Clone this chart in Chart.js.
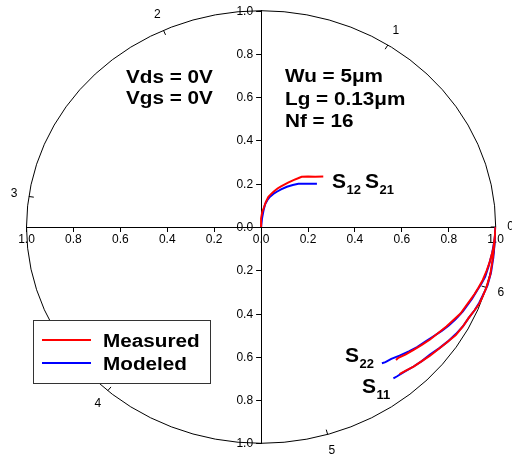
<!DOCTYPE html>
<html><head><meta charset="utf-8">
<script src="https://cdn.jsdelivr.net/npm/chart.js@4/dist/chart.umd.min.js"></script>
<style>html,body{margin:0;padding:0;background:#fff;overflow:hidden}canvas{display:block}</style>
</head><body>
<canvas id="c" width="512" height="459"></canvas>
<script>
const tickValues = [-1, -0.8, -0.6, -0.4, -0.2, 0, 0.2, 0.4, 0.6, 0.8, 1];
const angleValues = [0, 1, 2, 3, 4, 5, 6];          // radians
const angleLabels = ['0', '1', '2', '3', '4', '5', '6'];

const s21Measured = [[0,0],[0,0.04],[0.005,0.07],[0.012,0.09],[0.02,0.115],[0.031,0.14],[0.042,0.152],[0.053,0.163],[0.07,0.178],[0.085,0.188],[0.095,0.194],[0.115,0.205],[0.138,0.217],[0.155,0.224],[0.173,0.232],[0.2,0.233],[0.23,0.232],[0.265,0.233]];
const s21Modeled  = [[0,0],[0.004,0.04],[0.01,0.075],[0.017,0.105],[0.027,0.125],[0.038,0.14],[0.052,0.153],[0.067,0.163],[0.085,0.174],[0.11,0.186],[0.135,0.194],[0.159,0.2],[0.19,0.2],[0.215,0.2],[0.238,0.2]];
const s22Measured = [[1.0,0],[0.996,-0.05],[0.99,-0.10],[0.975,-0.16],[0.962,-0.20],[0.945,-0.245],[0.927,-0.28],[0.91,-0.31],[0.89,-0.34],[0.87,-0.37],[0.85,-0.40],[0.82,-0.43],[0.79,-0.46],[0.755,-0.49],[0.72,-0.52],[0.685,-0.545],[0.65,-0.568],[0.615,-0.59],[0.585,-0.605],[0.575,-0.615]];
const s22Modeled  = [[1.0,0],[0.995,-0.06],[0.985,-0.12],[0.97,-0.18],[0.955,-0.23],[0.94,-0.26],[0.92,-0.295],[0.90,-0.33],[0.88,-0.36],[0.86,-0.39],[0.83,-0.425],[0.80,-0.455],[0.77,-0.48],[0.735,-0.505],[0.70,-0.53],[0.665,-0.555],[0.63,-0.575],[0.59,-0.595],[0.555,-0.61],[0.53,-0.625],[0.515,-0.63]];
const s11Measured = [[1.0,0],[0.995,-0.07],[0.988,-0.14],[0.977,-0.22],[0.96,-0.28],[0.945,-0.32],[0.93,-0.355],[0.91,-0.385],[0.885,-0.42],[0.86,-0.46],[0.83,-0.50],[0.79,-0.535],[0.755,-0.565],[0.72,-0.595],[0.685,-0.62],[0.65,-0.645],[0.615,-0.665],[0.59,-0.68]];
const s11Modeled  = [[1.0,0],[0.996,-0.07],[0.99,-0.14],[0.98,-0.21],[0.965,-0.27],[0.948,-0.31],[0.93,-0.35],[0.91,-0.385],[0.885,-0.42],[0.86,-0.46],[0.83,-0.495],[0.795,-0.53],[0.76,-0.56],[0.72,-0.59],[0.685,-0.62],[0.65,-0.645],[0.61,-0.67],[0.58,-0.69],[0.564,-0.70]];

const legendLabels = ['Measured', 'Modeled'];
const seriesColors = ['#ff0000', '#0000ff'];
const biasLines = ['Vds = 0V', 'Vgs = 0V'];
const deviceLines = ['Wu = 5\u03BCm', 'Lg = 0.13\u03BCm', 'Nf = 16'];

const FONT = '"Liberation Sans", Arial, Helvetica, sans-serif';
const fmt = v => Math.abs(v).toFixed(1);
const pts = a => a.map(p => ({x: p[0], y: p[1]}));
const ds = (arr, color) => ({data: pts(arr), borderColor: color, backgroundColor: color, borderWidth: 2, pointRadius: 0, showLine: true, tension: 0, fill: false});

function txt(ctx, s, x, y, size, sx, bold) {
  ctx.save();
  ctx.translate(x, y); ctx.scale(sx, 1);
  ctx.font = (bold ? 'bold ' : '') + size + 'px ' + FONT;
  ctx.textAlign = 'left'; ctx.textBaseline = 'alphabetic'; ctx.fillStyle = '#000';
  ctx.fillText(s, 0, 0);
  ctx.restore();
}
function sLabel(ctx, sub, x, y) {
  txt(ctx, 'S', x, y, 21, 1, true);
  txt(ctx, sub, x + 14.5, y + 6, 13, 1, true);
}

const decor = {
  id: 'decor',
  beforeDatasetsDraw(chart) {
    const {ctx, scales: {x, y}} = chart;
    const cx = x.getPixelForValue(0), cy = y.getPixelForValue(0);
    const rx = x.getPixelForValue(1) - cx, ry = cy - y.getPixelForValue(1);
    ctx.save();
    // y-axis tick marks and labels, left of the centre axis
    ctx.strokeStyle = '#000'; ctx.lineWidth = 1; ctx.fillStyle = '#000';
    ctx.font = '12px ' + FONT; ctx.textAlign = 'right'; ctx.textBaseline = 'middle';
    tickValues.forEach(v => {
      const py = Math.round(y.getPixelForValue(v)) + 0.5;
      ctx.beginPath(); ctx.moveTo(cx, py); ctx.lineTo(cx - 5, py); ctx.stroke();
      ctx.fillText(fmt(v), cx - 8, py);
    });
    // outer circle
    ctx.beginPath(); ctx.ellipse(cx, cy, rx, ry, 0, 0, Math.PI * 2); ctx.stroke();
    ctx.textAlign = 'center';
    angleValues.forEach((a, i) => {
      const c = Math.cos(a), s = Math.sin(a);
      ctx.beginPath();
      ctx.moveTo(cx + rx * c, cy - ry * s);
      ctx.lineTo(cx + (rx - 5) * c, cy - (ry - 5) * s);
      ctx.stroke();
      ctx.fillText(angleLabels[i], cx + (rx + 15) * c, cy - (ry + 17) * s);
    });
    ctx.restore();
  },
  afterDraw(chart) {
    const ctx = chart.ctx;
    ctx.save();
    ctx.fillStyle = '#fff'; ctx.fillRect(33, 320, 178, 64);
    ctx.strokeStyle = '#333'; ctx.lineWidth = 1; ctx.strokeRect(33.5, 320.5, 177, 63);
    [340, 363].forEach((ly, i) => {
      ctx.strokeStyle = seriesColors[i]; ctx.lineWidth = 2;
      ctx.beginPath(); ctx.moveTo(42, ly); ctx.lineTo(91, ly); ctx.stroke();
      txt(ctx, legendLabels[i], 103, ly + 7, 18, 1.15, true);
    });
    ctx.restore();
    biasLines.forEach((t, i) => txt(ctx, t, 126, 83 + i * 21, 19, 1.09, true));
    deviceLines.forEach((t, i) => txt(ctx, t, 285, 82 + i * 22.5, 19, 1.09, true));
    sLabel(ctx, '12', 332, 188);
    sLabel(ctx, '21', 365, 188);
    sLabel(ctx, '22', 345, 362);
    sLabel(ctx, '11', 362, 393);
  }
};

const xAxis = {
  type: 'linear', min: -1, max: 1, position: {y: 0},
  afterBuildTicks: s => { s.ticks = tickValues.map(v => ({value: v})); },
  ticks: { callback: v => fmt(v), color: '#000', font: {family: FONT, size: 12}, autoSkip: false, maxRotation: 0, padding: 1 },
  grid: { display: true, drawOnChartArea: false, drawTicks: true, tickLength: 4, color: '#000' },
  border: { display: true, color: '#000', width: 1 }
};
const yAxis = {
  type: 'linear', min: -1, max: 1, position: {x: 0},
  afterBuildTicks: s => { s.ticks = tickValues.map(v => ({value: v})); },
  ticks: { display: false },
  grid: { display: false },
  border: { display: true, color: '#000', width: 1 }
};

new Chart(document.getElementById('c'), {
  type: 'scatter',
  data: { datasets: [
    ds(s21Measured, seriesColors[0]), ds(s22Measured, seriesColors[0]), ds(s11Measured, seriesColors[0]),
    ds(s21Modeled, seriesColors[1]), ds(s22Modeled, seriesColors[1]), ds(s11Modeled, seriesColors[1])
  ]},
  options: {
    responsive: false, animation: false, devicePixelRatio: 1,
    layout: { padding: {left: 26.5, right: 16.3, top: 10.7, bottom: 15.7} },
    plugins: { legend: {display: false}, tooltip: {enabled: false} },
    scales: { x: xAxis, y: yAxis }
  },
  plugins: [decor]
});
</script>
</body></html>
